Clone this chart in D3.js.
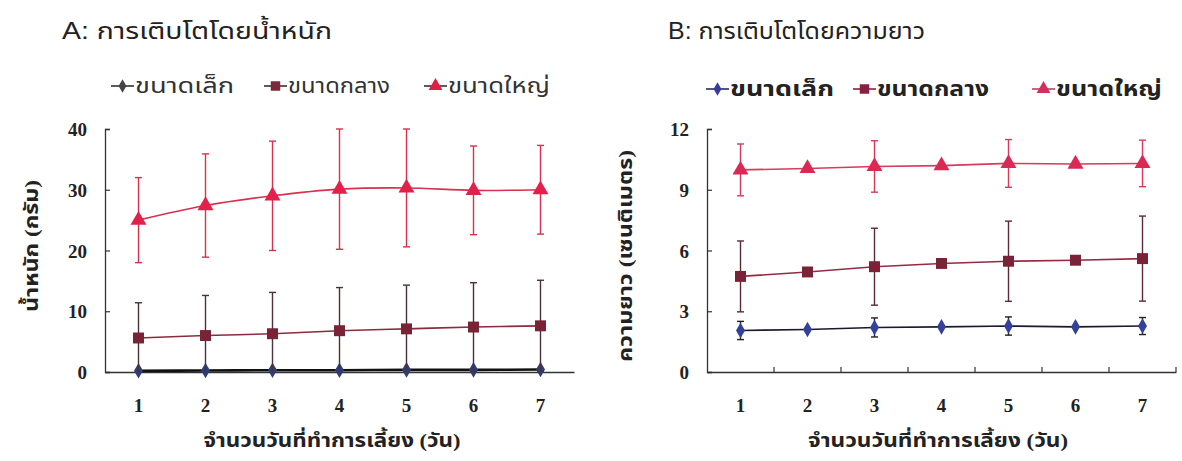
<!DOCTYPE html>
<html>
<head>
<meta charset="utf-8">
<script src="https://cdn.jsdelivr.net/npm/d3@7"></script>
<style>
  html, body { margin: 0; padding: 0; background: #fff; }
  svg { display: block; }
  .title { font-family: "Liberation Sans", Arial, "Noto Sans Thai", sans-serif; font-size: 23px; fill: #222; }
  .legend { font-family: "Noto Sans Thai", "Noto Sans", sans-serif; font-size: 21px; fill: #333; }
  .legendB { font-weight: bold; fill: #222; }
  .tick text { font-family: "Liberation Serif", "Times New Roman", serif; font-weight: bold; font-size: 19px; fill: #222; }
  .axtitle { font-family: "Liberation Serif", "Noto Sans Thai", serif; font-weight: bold; font-size: 19px; fill: #222; }
</style>
</head>
<body>
<svg id="chart" width="1182" height="461"></svg>
<script>
// Days of rearing
const days = [1, 2, 3, 4, 5, 6, 7];
const seriesNames = ["ขนาดเล็ก", "ขนาดกลาง", "ขนาดใหญ่"];

// Panel A: weight (g), mean and SD
const weightSmall    = [0.2, 0.25, 0.3, 0.3, 0.35, 0.35, 0.4];
const weightSmallSD  = [0.15, 0.15, 0.15, 0.15, 0.15, 0.15, 0.15];
const weightMedium   = [5.6, 6.0, 6.3, 6.8, 7.1, 7.4, 7.6];
const weightMediumSD = [5.8, 6.6, 6.8, 7.1, 7.2, 7.3, 7.5];
const weightLarge    = [25.0, 27.4, 29.0, 30.1, 30.3, 29.9, 30.0];
const weightLargeSD  = [7.0, 8.5, 9.0, 9.9, 9.7, 7.3, 7.3];
const weightTicks    = [0, 10, 20, 30, 40];

// Panel B: length (cm), mean and SD (SD shown on odd days only)
const lengthSmall    = [2.05, 2.1, 2.2, 2.23, 2.27, 2.23, 2.27];
const lengthSmallSD  = [0.45, null, 0.47, null, 0.45, null, 0.42];
const lengthMedium   = [4.72, 4.94, 5.2, 5.36, 5.47, 5.52, 5.6];
const lengthMediumSD = [1.75, null, 1.9, null, 1.98, null, 2.1];
const lengthLarge    = [9.98, 10.05, 10.15, 10.19, 10.3, 10.27, 10.3];
const lengthLargeSD  = [1.28, null, 1.27, null, 1.18, null, 1.15];
const lengthTicks    = [0, 3, 6, 9, 12];

const xTitle = "จำนวนวันที่ทำการเลี้ยง (วัน)";
const svg = d3.select("#chart");

// widen a text run to a given length by stretching glyphs
function fit(sel, len) {
  return sel.attr("textLength", len).attr("lengthAdjust", "spacingAndGlyphs");
}

function drawPanel(cfg) {
  const g = svg.append("g");
  const x = d3.scaleBand().domain(days).range([cfg.left, cfg.right]).paddingInner(0).paddingOuter(0);
  const cx = d => x(d) + x.bandwidth() / 2;
  const y = d3.scaleLinear().domain(cfg.domain).range([cfg.bottom, cfg.top]);

  // Title
  fit(g.append("text").attr("class", "title")
    .attr("x", cfg.titleX).attr("y", 39).text(cfg.title), cfg.titleLen);

  // Axes
  const yAxis = d3.axisRight(y).tickValues(cfg.ticks).tickSize(5).tickFormat(d3.format("d"));
  const ya = g.append("g").attr("transform", `translate(${cfg.left},0)`).call(yAxis);
  ya.select(".domain").attr("stroke", "#333").attr("stroke-width", 1.3);
  ya.selectAll(".tick line").attr("stroke", "#333").attr("stroke-width", 1.2);
  ya.selectAll(".tick text").attr("text-anchor", "end").attr("x", -18).attr("dy", "0.35em");

  const xAxis = d3.axisBottom(x).tickSize(0).tickPadding(27);
  const xa = g.append("g").attr("transform", `translate(0,${cfg.bottom})`).call(xAxis);
  xa.select(".domain").attr("stroke", "#333").attr("stroke-width", 1.3);
  if (cfg.xBoundaryTicks) {
    xa.selectAll(".bt").data(days.slice(1).concat(["end"])).enter().append("line")
      .attr("x1", d => d === "end" ? cfg.right : x(d))
      .attr("x2", d => d === "end" ? cfg.right : x(d))
      .attr("y1", 0).attr("y2", -5)
      .attr("stroke", "#333").attr("stroke-width", 1.2);
  }

  // Axis titles
  fit(g.append("text").attr("class", "axtitle").attr("text-anchor", "middle")
    .attr("x", cfg.xTitleX).attr("y", 447).text(xTitle), cfg.xTitleLen);
  fit(g.append("text").attr("class", "axtitle").attr("text-anchor", "middle")
    .attr("transform", `translate(${cfg.yTitleX},${cfg.yTitleY}) rotate(-90)`)
    .text(cfg.yTitle), cfg.yTitleLen);

  const line = d3.line().x(d => cx(d.day)).y(d => y(d.v)).curve(cfg.curve);

  cfg.series.forEach(s => {
    const pts = days.map((d, i) => ({ day: d, v: s.values[i], sd: s.sd[i] }));
    // error bars
    const eb = g.append("g");
    pts.filter(p => p.sd != null).forEach(p => {
      const hi = Math.min(p.v + p.sd, cfg.domain[1]);
      const lo = Math.max(p.v - p.sd, cfg.domain[0]);
      eb.append("line").attr("x1", cx(p.day)).attr("x2", cx(p.day))
        .attr("y1", y(hi)).attr("y2", y(lo))
        .attr("stroke", s.errColor).attr("stroke-width", 1.4);
      [hi, lo].forEach(v => {
        if (v === cfg.domain[0]) return;
        eb.append("line").attr("x1", cx(p.day) - 3.5).attr("x2", cx(p.day) + 3.5)
          .attr("y1", y(v)).attr("y2", y(v))
          .attr("stroke", s.errColor).attr("stroke-width", 1.4);
      });
    });
    // line
    g.append("path").datum(pts).attr("d", line)
      .attr("fill", "none").attr("stroke", s.lineColor).attr("stroke-width", s.lineWidth);
    // markers
    g.selectAll(null).data(pts).enter().append("path")
      .attr("transform", p => `translate(${cx(p.day)},${y(p.v)})`)
      .attr("d", d3.symbol().type(s.symbol).size(s.size))
      .attr("fill", s.markerColor);
  });

  // Legend
  const lg = g.append("g");
  cfg.series.forEach((s, i) => {
    const it = lg.append("g").attr("transform", `translate(${cfg.legendX[i]},${cfg.legendY})`);
    it.append("line").attr("x1", 0).attr("x2", 23).attr("y1", 0).attr("y2", 0)
      .attr("stroke", s.legendLine).attr("stroke-width", 1.6);
    it.append("path").attr("transform", "translate(11.5,0)")
      .attr("d", d3.symbol().type(s.symbol).size(s.size * 0.75))
      .attr("fill", s.legendMarker);
    fit(it.append("text").attr("class", cfg.legendClass).attr("x", 24).attr("y", 7)
      .text(seriesNames[i]), cfg.legendLen[i]);
  });
}

drawPanel({
  title: "A: การเติบโตโดยน้ำหนัก", titleX: 62, titleLen: 270,
  left: 105, right: 574, top: 129, bottom: 372,
  domain: [0, 40], ticks: weightTicks,
  yTitle: "น้ำหนัก (กรัม)", yTitleX: 38, yTitleY: 246, yTitleLen: 132,
  xTitleX: 332, xTitleLen: 257,
  xBoundaryTicks: false,
  curve: d3.curveCatmullRom.alpha(0.5),
  legendX: [111, 264, 424], legendY: 86, legendClass: "legend", legendLen: [99, 102, 102],
  series: [
    { values: weightSmall, sd: weightSmallSD, symbol: d3.symbolDiamond, size: 70,
      lineColor: "#111", lineWidth: 2.6, markerColor: "#2e3d78", errColor: "#222",
      legendLine: "#333", legendMarker: "#444" },
    { values: weightMedium, sd: weightMediumSD, symbol: d3.symbolSquare, size: 120,
      lineColor: "#8a2c3e", lineWidth: 1.6, markerColor: "#7a2236", errColor: "#4a3236",
      legendLine: "#333", legendMarker: "#7a2a3a" },
    { values: weightLarge, sd: weightLargeSD, symbol: d3.symbolTriangle, size: 110,
      lineColor: "#d8304e", lineWidth: 1.6, markerColor: "#e2214a", errColor: "#d8304e",
      legendLine: "#333", legendMarker: "#e02040" }
  ]
});

drawPanel({
  title: "B: การเติบโตโดยความยาว", titleX: 668, titleLen: 257,
  left: 707, right: 1176, top: 129, bottom: 372,
  domain: [0, 12], ticks: lengthTicks,
  yTitle: "ความยาว (เซนติเมตร)", yTitleX: 632, yTitleY: 256, yTitleLen: 212,
  xTitleX: 938, xTitleLen: 260,
  xBoundaryTicks: true,
  curve: d3.curveLinear,
  legendX: [706, 853, 1032], legendY: 89, legendClass: "legend legendB", legendLen: [104, 112, 106],
  series: [
    { values: lengthSmall, sd: lengthSmallSD, symbol: d3.symbolDiamond, size: 70,
      lineColor: "#1a1a2a", lineWidth: 1.6, markerColor: "#35409a", errColor: "#222",
      legendLine: "#2a2a60", legendMarker: "#3a3a9a" },
    { values: lengthMedium, sd: lengthMediumSD, symbol: d3.symbolSquare, size: 120,
      lineColor: "#962a44", lineWidth: 1.6, markerColor: "#7a2236", errColor: "#5a2a36",
      legendLine: "#8a2040", legendMarker: "#8a2040" },
    { values: lengthLarge, sd: lengthLargeSD, symbol: d3.symbolTriangle, size: 110,
      lineColor: "#d83a5a", lineWidth: 1.6, markerColor: "#d82a54", errColor: "#d83a5a",
      legendLine: "#c04060", legendMarker: "#d03060" }
  ]
});
</script>
</body>
</html>
